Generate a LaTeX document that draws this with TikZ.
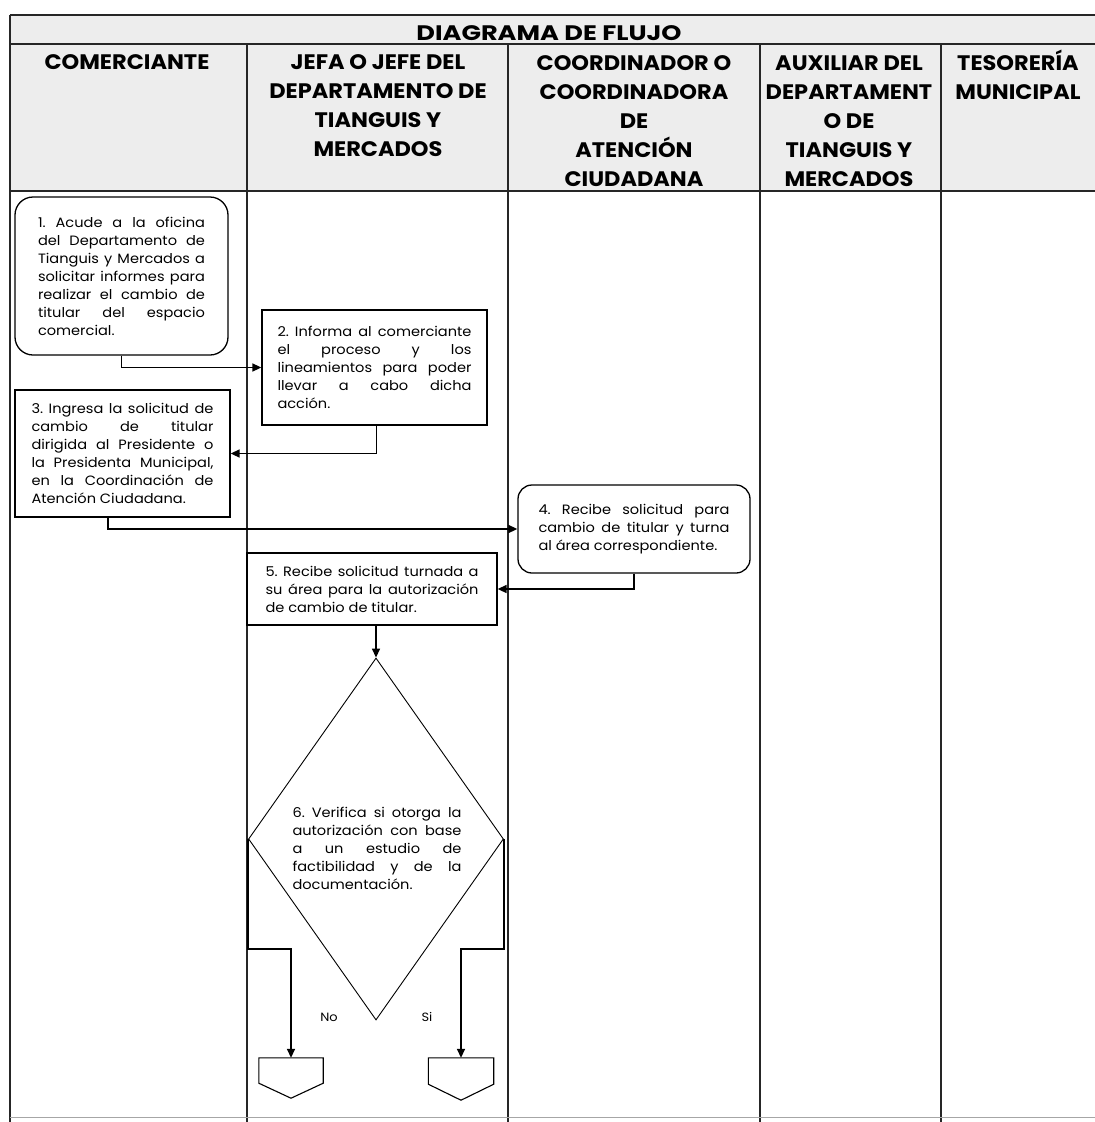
\documentclass[tikz,border=0pt]{standalone}
\usepackage{fontspec}
\setmainfont{Poppins}[FakeStretch=1.08]
\newfontfamily\hdrfam{Poppins}[FakeStretch=1.07]
\usetikzlibrary{shapes.geometric,arrows.meta}
\newcommand\jl[1]{\sbox0{#1}\ifdim\wd0>\linewidth\pgfmathsetmacro\rr{\linewidth/\wd0}\scalebox{\rr}[1]{#1}\else\makebox[\linewidth][s]{#1}\fi\\}
\newcommand\hd[1]{\begin{tabular}[t]{@{}c@{}}#1\end{tabular}}
\newcommand\bodyfont{\fontsize{13.5}{18}\selectfont\frenchspacing}
\newcommand\hdrfont{\hdrfam\fontsize{21}{29.2}\selectfont\bfseries}
\begin{document}
\begin{tikzpicture}[x=1pt,y=-1pt,
  tline/.style={line width=1.4pt, black!85},
  box/.style={draw, line width=1.3pt, inner sep=0pt, align=justify, font=\bodyfont},
  rbox/.style={box, rounded corners=18pt},
  conn/.style={line width=1.6pt, -{Triangle[length=9pt,width=8pt]}},
  hdr/.style={anchor=base, inner sep=0pt, font=\hdrfont},
  offp/.style={inner sep=0pt, minimum width=64pt, minimum height=40pt},
  lbl/.style={inner sep=0pt, font=\fontsize{12}{14}\selectfont}]
\useasboundingbox (0,0) rectangle (1095,1122);
% table
\fill[black!7] (10,15) rectangle (1095,191);
\draw[tline] (10,15) -- (1095,15);
\draw[tline] (10,44) -- (1095,44);
\draw[tline] (10,191) -- (1095,191);
\draw[tline] (10,15) -- (10,1122);
\foreach \x in {247,508,760,941} \draw[tline] (\x,44) -- (\x,1122);
\draw[black!35, line width=0.8pt] (10,1117) -- (1095,1117);
% headers
\node[hdr] (title) at (549,40) {\scalebox{1.14}[1]{DIAGRAMA DE FLUJO}};
\node[hdr] (h1) at (127,69) {\hd{COMERCIANTE}};
\node[hdr] (h2) at (378,69) {\hd{JEFA O JEFE DEL\\DEPARTAMENTO DE\\TIANGUIS Y\\MERCADOS}};
\node[hdr] (h3) at (634,70) {\hd{COORDINADOR O\\COORDINADORA\\DE\\ATENCIÓN\\CIUDADANA}};
\node[hdr] (h4) at (849,70) {\hd{AUXILIAR DEL\\DEPARTAMENT\\O DE\\TIANGUIS Y\\MERCADOS}};
\node[hdr] (h5) at (1018,70) {\hd{TESORERÍA\\MUNICIPAL}};
% boxes
\node[rbox, minimum width=213pt, minimum height=158pt, text width=167pt] (b1) at (121.5,276) {%
\jl{1. Acude a la oficina}\jl{del Departamento de}\jl{Tianguis y Mercados a}\jl{solicitar informes para}\jl{realizar el cambio de}\jl{titular del espacio}comercial.};
\node[box, minimum width=225pt, minimum height=115pt, text width=194pt] (b2) at (374.5,367.5) {%
\jl{2. Informa al comerciante}\jl{el proceso y los}\jl{lineamientos para poder}\jl{llevar a cabo dicha}acción.};
\node[box, minimum width=215pt, minimum height=127pt, text width=182pt] (b3) at (122.5,453.5) {%
\jl{3. Ingresa la solicitud de}\jl{cambio de titular}\jl{dirigida al Presidente o}\jl{la Presidenta Municipal,}\jl{en la Coordinación de}Atención Ciudadana.};
\node[rbox, rounded corners=14pt, minimum width=232pt, minimum height=88pt, text width=191pt] (b4) at (634,529) {%
\jl{4. Recibe solicitud para}\jl{cambio de titular y turna}al área correspondiente.};
\node[box, minimum width=250pt, minimum height=72pt, text width=213pt] (b5) at (372,589) {%
\jl{5. Recibe solicitud turnada a}\jl{su área para la autorización}de cambio de titular.};
\node[draw, diamond, line width=0.9pt, minimum width=255pt, minimum height=362pt, inner sep=0pt] (d6) at (376,839) {};
\node[inner sep=0pt, anchor=base, text width=169pt, align=justify, font=\bodyfont] (d6t) at (377,817) {%
\jl{6. Verifica si otorga la}\jl{autorización con base}\jl{a un estudio de}\jl{factibilidad y de la}documentación.};
% off-page connectors
\node[offp] (o1) at (291,1078) {};
\node[offp, minimum width=65pt, minimum height=42pt] (o2) at (461,1079) {};
\draw[line width=1.1pt] (o1.north west) -- (o1.north east) -- ([yshift=15pt]o1.south east) -- (o1.south) -- ([yshift=15pt]o1.south west) -- cycle;
\draw[line width=1.1pt] (o2.north west) -- (o2.north east) -- ([yshift=16pt]o2.south east) -- (o2.south) -- ([yshift=16pt]o2.south west) -- cycle;
\node[lbl] (no) at (329,1017) {No};
\node[lbl] (si) at (427,1017) {Si};
% connectors
\coordinate (lev) at (0,949);
\draw[conn] (b1.south) |- (b2.west);
\draw[conn] ([xshift=2pt]b2.south) |- (b3.east);
\draw[conn] ([xshift=-14.5pt]b3.south) |- (b4.west);
\draw[conn] (b4.south) |- (b5.east);
\draw[conn] (b5.south -| d6.north) -- (d6.north);
\draw[conn] (d6.west) -- (d6.west |- lev) -| (o1.north);
\draw[conn] (d6.east) -- (d6.east |- lev) -| (o2.north);
\end{tikzpicture}
\end{document}
